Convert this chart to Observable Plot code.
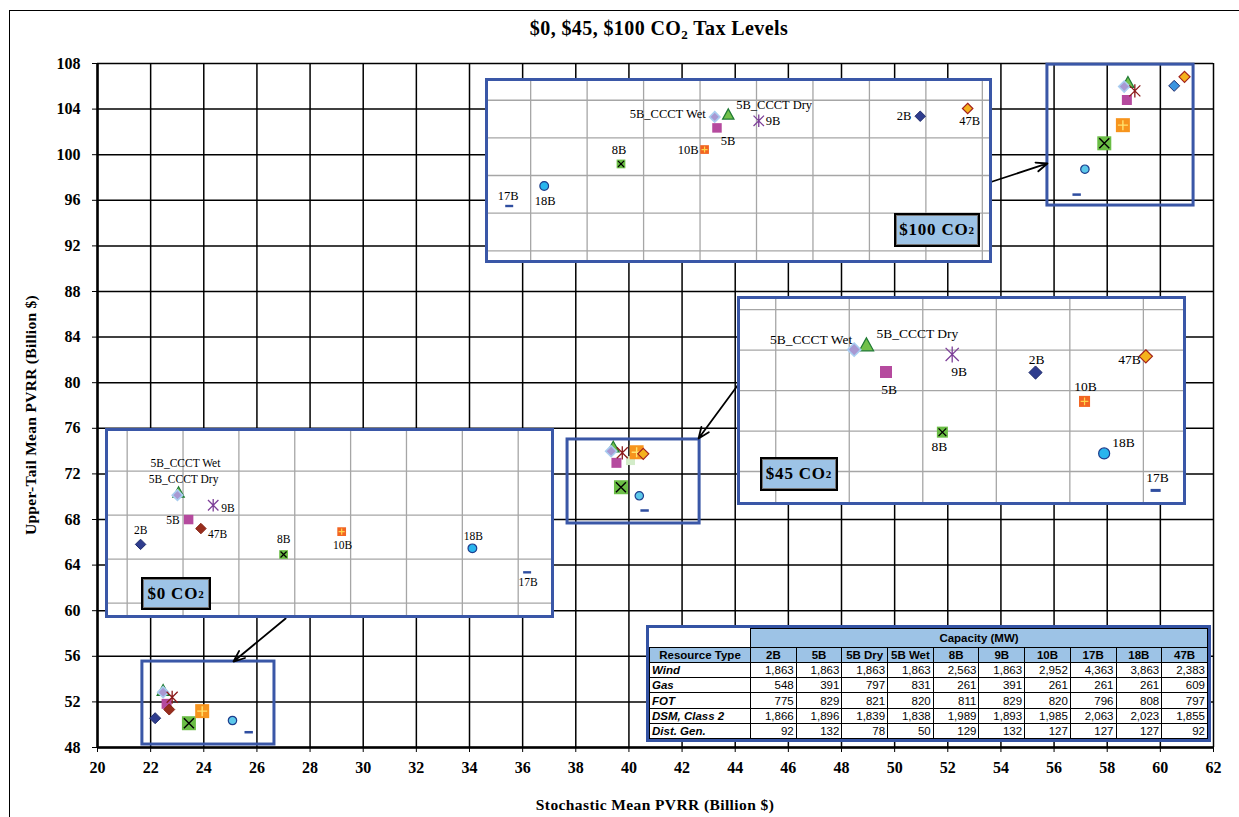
<!DOCTYPE html>
<html><head><meta charset="utf-8">
<script src="https://cdn.jsdelivr.net/npm/d3@7"></script>
<script src="https://cdn.jsdelivr.net/npm/@observablehq/plot@0.6"></script>
<style>
html,body{margin:0;padding:0;background:#fff;}
#root{position:relative;width:1239px;height:817px;overflow:hidden;font-family:"Liberation Serif","Times New Roman",serif;color:#000;}
.abs{position:absolute;}
.frameline{position:absolute;left:9px;top:10px;width:1400px;height:1000px;border-left:1.5px solid #000;border-top:1.5px solid #000;}
.title{position:absolute;left:659px;top:17px;transform:translateX(-50%);font-weight:bold;font-size:20px;letter-spacing:0.4px;white-space:nowrap;}
.ylab{position:absolute;left:31px;top:415px;transform:translate(-50%,-50%) rotate(-90deg);font-weight:bold;font-size:15.5px;letter-spacing:0.3px;white-space:nowrap;}
.xlab{position:absolute;left:655px;top:805px;transform:translate(-50%,-50%);font-weight:bold;font-size:15.5px;letter-spacing:0.4px;white-space:nowrap;}
.inset{position:absolute;background:#fff;}
.inset svg{display:block;}
.insetborder{position:absolute;left:0;top:0;right:0;bottom:0;border:3px solid #3a57a7;box-sizing:border-box;pointer-events:none;}
.co2{position:absolute;background:#9dc3e6;border:2px solid #000;box-shadow:0 0 0 1px #777 inset;box-sizing:border-box;font-weight:bold;font-size:17px;letter-spacing:0.8px;display:flex;align-items:center;justify-content:center;white-space:nowrap;}
sub{font-size:0.65em;vertical-align:-0.3em;line-height:0;}
.tbl{position:absolute;left:646px;top:625px;width:565px;height:117px;border:3px solid #3453a4;box-sizing:border-box;background:#fff;}
.tbl table{width:100%;height:100%;border-collapse:collapse;table-layout:fixed;font-family:"Liberation Sans",Arial,sans-serif;font-size:11.5px;}
.tbl td{border:1.5px solid #000;padding:0 2px;line-height:12px;}
.tbl td.blank{border:none;border-right:1.5px solid #000;}
.tbl .hdr{background:#9dc3e6;font-weight:bold;text-align:center;}
.tbl .rowlab{font-weight:bold;font-style:italic;text-align:left;}
.tbl .num{text-align:right;}
</style></head><body><div id="root"></div><script>
// ---------------- DATA ----------------
const plans = ["2B","5B","5B_CCCT Dry","5B_CCCT Wet","8B","9B","10B","17B","18B","47B"];
const co2Levels = ["$0","$45","$100"];

// Main chart (Stochastic Mean PVRR, Upper-Tail Mean PVRR), billion $
const main0X   = [22.17,22.60,22.47,22.47,23.44,22.81,23.94,25.69,25.08,22.70];
const main0Y   = [50.57,51.83,53.00,52.85,50.13,52.41,51.19,49.34,50.37,51.33];
const main45X  = [40.06,39.53,39.41,39.33,39.70,39.75,40.29,40.59,40.39,40.54];
const main45Y  = [73.17,72.97,74.34,73.99,70.83,73.85,73.90,68.79,70.08,73.76];
const main100X = [60.52,58.74,58.78,58.64,57.89,59.04,58.59,56.85,57.16,60.91];
const main100Y = [106.04,104.80,106.33,105.98,101.00,105.60,102.59,96.50,98.73,106.83];

// Inset (magnified) charts
const inset0X   = [22.12,22.55,22.46,22.45,23.40,22.77,23.92,25.58,25.09,22.66];
const inset0Y   = [50.67,51.80,53.03,52.91,50.21,52.45,51.25,49.40,50.49,51.39];
const inset45X  = [40.06,39.45,39.37,39.32,39.68,39.72,40.26,40.55,40.34,40.51];
const inset45Y  = [73.17,73.19,74.19,74.02,70.96,73.84,72.10,68.80,70.17,73.77];
const inset100X = [60.45,58.65,58.75,58.63,57.80,59.02,58.54,56.81,57.12,60.87];
const inset100Y = [106.30,105.06,106.48,106.23,101.23,105.81,102.76,96.76,98.89,107.12];

// Axis ticks
const xTicks = d3.range(20, 62.1, 2);
const yTicks = d3.range(48, 108.1, 4);
const inset0XTicks = [22,22.5,23,23.5,24,24.5,25,25.5];
const inset0YTicks = [48,50,52,54];
const inset45XTicks = [39,39.3,39.6,39.9,40.2,40.5];
const inset45YTicks = [69.5,71,72.5,74,75.5];
const inset100XTicks = [57,57.5,58,58.5,59,59.5,60,60.5,61];
const inset100YTicks = [92,96,100,104,108];

// Zoom areas marked on the main chart (data units)
const zoomBoxes = [
  {x1:21.69,x2:26.66,y1:48.26,y2:55.54},
  {x1:37.69,x2:42.66,y1:67.65,y2:75.02},
  {x1:55.75,x2:61.25,y1:95.54,y2:107.9}
];
// Callout arrows from insets to zoom areas (data units)
const callouts = [
  {x1:27.08,y1:59.32,x2:25.12,y2:55.54},
  {x1:44.20,y1:80.11,x2:42.62,y2:75.11},
  {x1:53.68,y1:97.65,x2:55.75,y2:99.23}
];

// Capacity table
const tableCols = ["2B","5B","5B Dry","5B Wet","8B","9B","10B","17B","18B","47B"];
const resourceTypes = ["Wind","Gas","FOT","DSM, Class 2","Dist. Gen."];
const windMW = [1863,1863,1863,1863,2563,1863,2952,4363,3863,2383];
const gasMW  = [548,391,797,831,261,391,261,261,261,609];
const fotMW  = [775,829,821,820,811,829,820,796,808,797];
const dsmMW  = [1866,1896,1839,1838,1989,1893,1985,2063,2023,1855];
const dgMW   = [92,132,78,50,129,132,127,127,127,92];

// ---------------- LAYOUT / STYLE ----------------
const rows = (xs, ys, level) => plans.map((p,i) => ({plan:p, x:xs[i], y:ys[i], level}));
const mainRows = [...rows(main0X,main0Y,"$0"), ...rows(main45X,main45Y,"$45"), ...rows(main100X,main100Y,"$100")];

const Rr = s => Math.sqrt(s/Math.PI);
const SYM = {
  square:{draw(c,s){const r=Rr(s);c.rect(-r,-r,2*r,2*r);}},
  diamond:{draw(c,s){const r=Rr(s);c.moveTo(0,-r);c.lineTo(r,0);c.lineTo(0,r);c.lineTo(-r,0);c.closePath();}},
  triangle:{draw(c,s){const r=Rr(s);c.moveTo(0,-r);c.lineTo(r,r*0.8);c.lineTo(-r,r*0.8);c.closePath();}},
  circle:{draw(c,s){const r=Rr(s);c.moveTo(r,0);c.arc(0,0,r,0,2*Math.PI);}},
  times:{draw(c,s){const r=Rr(s);c.moveTo(-r,-r);c.lineTo(r,r);c.moveTo(r,-r);c.lineTo(-r,r);}},
  plus:{draw(c,s){const r=Rr(s);c.moveTo(-r,0);c.lineTo(r,0);c.moveTo(0,-r);c.lineTo(0,r);}},
  star:{draw(c,s){const r=Rr(s);c.moveTo(-r,-r);c.lineTo(r,r);c.moveTo(r,-r);c.lineTo(-r,r);c.moveTo(0,-r*1.2);c.lineTo(0,r*1.2);}},
  dash:{draw(c,s){const r=Rr(s);c.rect(-r,-r*0.3,2*r,r*0.6);}}
};
const drawOrder = ["2B","5B_CCCT Dry","5B_CCCT Wet","5B","9B","8B","10B","47B","18B","17B"];

function layers(plan, level, chart){
  const main = chart === "main";
  switch(plan){
    case "2B":
      if (main && level==="$45") return [{sym:"square",r:4.5,fill:"#d3ecc9",stroke:"none"}];
      return [{sym:"diamond",r:5.5,fill: main && level==="$100" ? "#3a94e0" : "#2f3d8e",stroke:"#1d2a6b",sw:1}];
    case "5B": return [{sym:"square",r:5,fill:"#b54a9e",stroke:"none"}];
    case "5B_CCCT Dry": return [{sym:"triangle",r:6,fill:"#72c04b",stroke:"#1f7a34",sw:1.2}];
    case "5B_CCCT Wet": return [{sym:"diamond",r:5.5,fill:"#a898d2",stroke:"#a9cdf0",sw:1.6}];
    case "8B": return main
      ? [{sym:"square",r:7,fill:"#6abd45",stroke:"none"},{sym:"times",r:5,fill:"none",stroke:"#000",sw:1.4}]
      : [{sym:"square",r:4.6,fill:"#6abd45",stroke:"none"},{sym:"times",r:3.2,fill:"none",stroke:"#000",sw:1.2}];
    case "9B": return [{sym:"star",r:5.5,fill:"none",stroke: main ? "#8b1a1a" : "#7d3f98",sw:1.3}];
    case "10B": return main
      ? [{sym:"square",r:7,fill:"#f7941d",stroke:"none"},{sym:"plus",r:5,fill:"none",stroke:"#ffe36e",sw:1.4}]
      : [{sym:"square",r:4.6,fill:"#f26522",stroke:"none"},{sym:"plus",r:3.2,fill:"none",stroke:"#ffd54a",sw:1.2}];
    case "17B": return [{sym:"dash",r:4.2,fill:"#2f4ea0",stroke:"none"}];
    case "18B": return [{sym:"circle",r: main ? 4.2 : 4.6,fill: main ? "#5cc8ea" : "#29b5ee",stroke:"#1d3c8c",sw:1.2}];
    case "47B": return level==="$0"
      ? [{sym:"diamond",r:5.5,fill:"#982d1d",stroke:"#872215",sw:1}]
      : [{sym:"diamond",r:5.5,fill:"#f5b21d",stroke:"#a3231b",sw:1.2}];
  }
}

function pointMarks(data, chart, scale=1){
  const marks = [];
  for (const lvl of co2Levels) for (const p of drawOrder) {
    const d = data.filter(r => r.plan===p && r.level===lvl);
    if (!d.length) continue;
    for (const L of layers(p, lvl, chart)) {
      marks.push(Plot.dot(d, {x:"x", y:"y", symbol:SYM[L.sym], r:L.r*scale, fill:L.fill, stroke:L.stroke, strokeWidth:L.sw||1}));
    }
  }
  return marks;
}

const root = document.getElementById("root");
const add = (html) => { const d=document.createElement("div"); d.innerHTML=html; const el=d.firstElementChild; root.appendChild(el); return el; };

// ---------------- MAIN CHART ----------------
const mainPlot = Plot.plot({
  width:1239, height:817,
  marginLeft:97, marginRight:26, marginTop:63, marginBottom:70,
  x:{domain:[20,62], ticks:xTicks, tickSize:5, tickPadding:9, label:null},
  y:{domain:[48,108], ticks:yTicks, tickSize:5, tickPadding:12, label:null},
  style:{fontFamily:"'Liberation Serif', serif", fontSize:"16px", fontWeight:"bold", color:"#000", background:"transparent", overflow:"visible"},
  marks:[
    Plot.ruleX(xTicks, {stroke:"#000", strokeWidth:1.5}),
    Plot.ruleY(yTicks, {stroke:"#000", strokeWidth:1.5}),
    Plot.ruleX([20], {stroke:"#000", strokeWidth:2.5}),
    Plot.ruleY([48], {stroke:"#000", strokeWidth:2.5}),
    Plot.rect(zoomBoxes, {x1:"x1", x2:"x2", y1:"y1", y2:"y2", fill:"none", stroke:"#3a57a7", strokeWidth:3}),
    ...pointMarks(mainRows, "main"),
    Plot.arrow(callouts, {x1:"x1", y1:"y1", x2:"x2", y2:"y2", stroke:"#000", strokeWidth:1.8, headLength:10, headAngle:45})
  ]
});
mainPlot.style.position = "absolute"; mainPlot.style.left="0px"; mainPlot.style.top="0px";
root.appendChild(mainPlot);

add('<div class="frameline"></div>');
add('<div class="title">$0, $45, $100 CO<sub>2</sub> Tax Levels</div>');
add('<div class="ylab">Upper-Tail Mean PVRR (Billion $)</div>');
add('<div class="xlab">Stochastic Mean PVRR (Billion $)</div>');

// ---------------- INSETS ----------------
const insets = [
  {level:"$0", xs:inset0X, ys:inset0Y, left:105, top:428, w:449, h:190, xd:[21.806,25.825], yd:[47.30,55.94],
   xt:inset0XTicks, yt:inset0YTicks, fs:11.5, sc:0.95, box:{l:36,t:149,w:70,h:33},
   lab:{"2B":[0,-14,"middle"],"5B_CCCT Wet":[8,-32,"middle"],"5B_CCCT Dry":[5,-13,"middle"],"9B":[8,3,"start"],"5B":[-9,1,"end"],"47B":[7,6,"start"],"8B":[0,-15,"middle"],"10B":[1,14,"middle"],"18B":[1,-12,"middle"],"17B":[1,10,"middle"]}},
  {level:"$45", xs:inset45X, ys:inset45Y, left:737, top:296, w:449, h:209, xd:[38.844,40.676], yd:[68.24,75.99],
   xt:inset45XTicks, yt:inset45YTicks, fs:13.5, sc:1.2, box:{l:23,t:161,w:78,h:34},
   lab:{"5B_CCCT Wet":[-2,-10,"end"],"5B_CCCT Dry":[10,-11,"start"],"5B":[3,18,"middle"],"9B":[7,17,"middle"],"2B":[1,-13,"middle"],"10B":[1,-15,"middle"],"47B":[-5,3,"end"],"8B":[-3,15,"middle"],"18B":[8,-11,"start"],"17B":[2,-13,"middle"]}},
  {level:"$100", xs:inset100X, ys:inset100Y, left:485, top:78, w:507, h:185, xd:[56.60,61.09], yd:[90.65,110.31],
   xt:inset100XTicks, yt:inset100YTicks, fs:12.5, sc:0.95, box:{l:409,t:135,w:86,h:34},
   lab:{"5B_CCCT Wet":[-9,-3,"end"],"5B_CCCT Dry":[8,-10,"start"],"9B":[7,0,"start"],"5B":[11,13,"middle"],"2B":[-9,0,"end"],"47B":[2,12,"middle"],"10B":[-6,0,"end"],"8B":[-2,-14,"middle"],"18B":[1,15,"middle"],"17B":[-1,-10,"middle"]}}
];

for (const ins of insets) {
  const data = rows(ins.xs, ins.ys, ins.level);
  const textMarks = data.map(d => {
    const [dx,dy,anchor] = ins.lab[d.plan];
    return Plot.text([d], {x:"x", y:"y", text:"plan", dx, dy, textAnchor:anchor, fontSize:ins.fs, fill:"#000", fontFamily:"'Liberation Serif', serif"});
  });
  const p = Plot.plot({
    width:ins.w, height:ins.h, margin:0,
    x:{domain:ins.xd, axis:null}, y:{domain:ins.yd, axis:null},
    style:{background:"#fff", overflow:"hidden"},
    marks:[
      Plot.ruleX(ins.xt, {stroke:"#a6a6a6", strokeWidth:1.3}),
      Plot.ruleY(ins.yt, {stroke:"#a6a6a6", strokeWidth:1.3}),
      ...pointMarks(data, "inset", ins.sc),
      ...textMarks
    ]
  });
  const div = document.createElement("div");
  div.className = "inset";
  Object.assign(div.style, {left:ins.left+"px", top:ins.top+"px", width:ins.w+"px", height:ins.h+"px"});
  div.appendChild(p);
  const b = document.createElement("div"); b.className="insetborder"; div.appendChild(b);
  const c = document.createElement("div"); c.className="co2";
  Object.assign(c.style, {left:ins.box.l+"px", top:ins.box.t+"px", width:ins.box.w+"px", height:ins.box.h+"px"});
  c.innerHTML = ins.level + " CO<sub>2</sub>";
  div.appendChild(c);
  root.appendChild(div);
}

// ---------------- TABLE ----------------
const fmt = d3.format(",");
const values = [windMW, gasMW, fotMW, dsmMW, dgMW];
let html = '<div class="tbl"><table><colgroup><col style="width:101px">' + tableCols.map(()=>'<col>').join('') + '</colgroup>';
html += '<tr style="height:19px"><td class="blank"></td><td class="hdr" colspan="' + tableCols.length + '">Capacity (MW)</td></tr>';
html += '<tr><td class="hdr">Resource Type</td>' + tableCols.map(c => '<td class="hdr">' + c + '</td>').join('') + '</tr>';
resourceTypes.forEach((r,i) => {
  html += '<tr><td class="rowlab">' + r + '</td>' + values[i].map(v => '<td class="num">' + fmt(v) + '</td>').join('') + '</tr>';
});
html += '</table></div>';
add(html);
</script></body></html>
